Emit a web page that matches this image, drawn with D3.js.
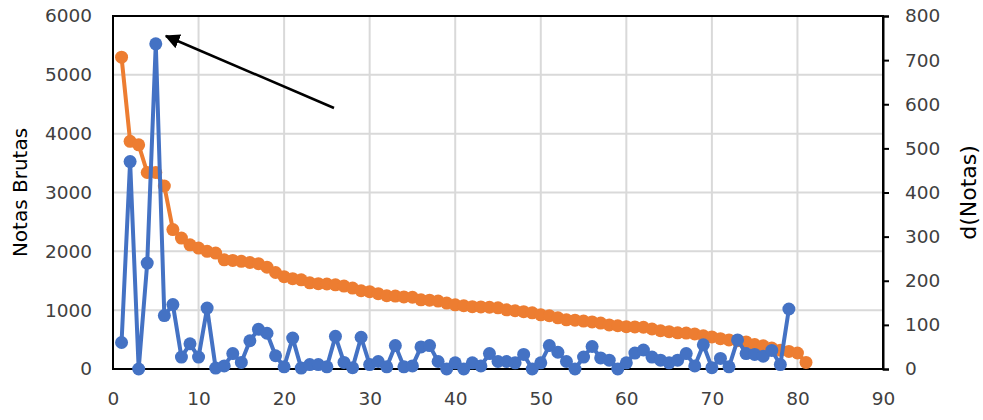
<!DOCTYPE html>
<html>
<head>
<meta charset="utf-8">
<script src="https://cdn.jsdelivr.net/npm/d3@7"></script>
<style>
  body { margin: 0; background: #fff; }
  svg text { font-family: "DejaVu Sans", sans-serif; fill: #404040; }
</style>
</head>
<body>
<svg id="chart" width="983" height="420"></svg>
<script>
// Notas Brutas (left axis), ranks 1..81
const notasBrutas = [5300, 3870, 3810, 3340, 3340, 3110, 2370, 2225, 2110, 2055,
  2000, 1970, 1855, 1845, 1830, 1810, 1790, 1730, 1640, 1570,
  1535, 1515, 1465, 1450, 1445, 1430, 1410, 1375, 1330, 1315,
  1280, 1245, 1240, 1225, 1220, 1175, 1170, 1155, 1120, 1090,
  1075, 1060, 1055, 1050, 1040, 1005, 990, 975, 955, 920,
  905, 870, 835, 830, 815, 800, 780, 750, 735, 720,
  715, 710, 680, 650, 635, 615, 610, 595, 565, 545,
  515, 495, 480, 460, 415, 395, 355, 320, 299, 272, 112];

// d(Notas) (right axis), ranks 1..79
const dNotas = [60, 470, 0, 240, 737, 121, 146, 27, 57, 27,
  138, 2, 7, 35, 15, 64, 90, 81, 30, 5,
  70, 2, 10, 10, 5, 74, 15, 3, 72, 10,
  17, 5, 53, 5, 7, 50, 53, 17, 0, 14,
  0, 14, 7, 35, 17, 17, 14, 33, 0, 14,
  53, 38, 17, 0, 27, 51, 25, 20, 0, 14,
  36, 43, 27, 20, 14, 20, 35, 7, 55, 3,
  24, 5, 66, 35, 33, 29, 42, 10, 136];

const xTicks = [0, 10, 20, 30, 40, 50, 60, 70, 80, 90];
const leftTicks = [0, 1000, 2000, 3000, 4000, 5000, 6000];
const rightTicks = [0, 100, 200, 300, 400, 500, 600, 700, 800];

const svg = d3.select('#chart');
const plotLeft = 113, plotRight = 883, plotTop = 16, plotBottom = 369;

const x = d3.scaleLinear().domain([0, 90]).range([plotLeft, plotRight]);
const yL = d3.scaleLinear().domain([0, 6000]).range([plotBottom, plotTop]);
const yR = d3.scaleLinear().domain([0, 800]).range([plotBottom, plotTop]);

// gridlines
svg.append('g')
  .selectAll('line')
  .data(xTicks.slice(1, -1))
  .enter().append('line')
    .attr('x1', d => x(d)).attr('x2', d => x(d))
    .attr('y1', plotTop).attr('y2', plotBottom)
    .attr('stroke', '#d9d9d9').attr('stroke-width', 2);

svg.append('g')
  .selectAll('line')
  .data(leftTicks.slice(1, -1))
  .enter().append('line')
    .attr('x1', plotLeft).attr('x2', plotRight)
    .attr('y1', d => yL(d)).attr('y2', d => yL(d))
    .attr('stroke', '#d9d9d9').attr('stroke-width', 2);

// frame
svg.append('rect')
  .attr('x', plotLeft).attr('y', plotTop)
  .attr('width', plotRight - plotLeft).attr('height', plotBottom - plotTop)
  .attr('fill', 'none').attr('stroke', '#000').attr('stroke-width', 2);

const fmt = d3.format('d');

// right axis
const rAxis = svg.append('g')
  .attr('transform', `translate(${plotRight},0)`)
  .call(d3.axisRight(yR).tickValues(rightTicks).tickFormat(fmt).tickSize(6).tickPadding(16));
rAxis.select('.domain').attr('stroke', '#000').attr('stroke-width', 2);
rAxis.selectAll('.tick line').attr('stroke', '#000').attr('stroke-width', 2);
rAxis.selectAll('text').attr('font-size', 18.5).attr('fill', '#404040')
  .attr('font-family', '"DejaVu Sans", sans-serif');

// left axis labels
const lAxis = svg.append('g')
  .attr('transform', `translate(${plotLeft},0)`)
  .call(d3.axisLeft(yL).tickValues(leftTicks).tickFormat(fmt).tickSize(0).tickPadding(21));
lAxis.select('.domain').remove();
lAxis.selectAll('text').attr('font-size', 18.5).attr('fill', '#404040')
  .attr('font-family', '"DejaVu Sans", sans-serif');

// bottom axis labels
const bAxis = svg.append('g')
  .attr('transform', `translate(0,${plotBottom})`)
  .call(d3.axisBottom(x).tickValues(xTicks).tickFormat(fmt).tickSize(0).tickPadding(23));
bAxis.select('.domain').remove();
bAxis.selectAll('text').attr('font-size', 18.5).attr('fill', '#404040')
  .attr('font-family', '"DejaVu Sans", sans-serif');

// axis titles
svg.append('text')
  .attr('transform', `translate(27,${(plotTop + plotBottom) / 2}) rotate(-90)`)
  .attr('text-anchor', 'middle')
  .attr('font-family', '"Liberation Sans", sans-serif')
  .attr('font-size', 20)
  .style('fill', '#000')
  .text('Notas Brutas');

svg.append('text')
  .attr('transform', `translate(976,${(plotTop + plotBottom) / 2}) rotate(-90)`)
  .attr('text-anchor', 'middle')
  .attr('font-family', '"Liberation Sans", sans-serif')
  .attr('font-size', 22)
  .style('fill', '#000')
  .text('d(Notas)');

// series
function drawSeries(values, yScale, color) {
  const pts = values.map((v, i) => [i + 1, v]);
  svg.append('path')
    .datum(pts)
    .attr('fill', 'none')
    .attr('stroke', color)
    .attr('stroke-width', 4)
    .attr('stroke-linejoin', 'round')
    .attr('d', d3.line().x(d => x(d[0])).y(d => yScale(d[1])));
  svg.append('g')
    .selectAll('circle')
    .data(pts)
    .enter().append('circle')
      .attr('cx', d => x(d[0]))
      .attr('cy', d => yScale(d[1]))
      .attr('r', 6.5)
      .attr('fill', color);
}

drawSeries(notasBrutas, yL, '#ED7D31');
drawSeries(dNotas, yR, '#4472C4');

// arrow pointing at the peak
svg.append('defs').append('marker')
  .attr('id', 'head')
  .attr('viewBox', '0 0 10 10')
  .attr('refX', 9).attr('refY', 5)
  .attr('markerWidth', 6).attr('markerHeight', 6)
  .attr('orient', 'auto')
  .append('path').attr('d', 'M0,0 L10,5 L0,10 z').attr('fill', '#000');

svg.append('line')
  .attr('x1', 334).attr('y1', 108)
  .attr('x2', 166).attr('y2', 36)
  .attr('stroke', '#000').attr('stroke-width', 2.5)
  .attr('marker-end', 'url(#head)');
</script>
</body>
</html>
